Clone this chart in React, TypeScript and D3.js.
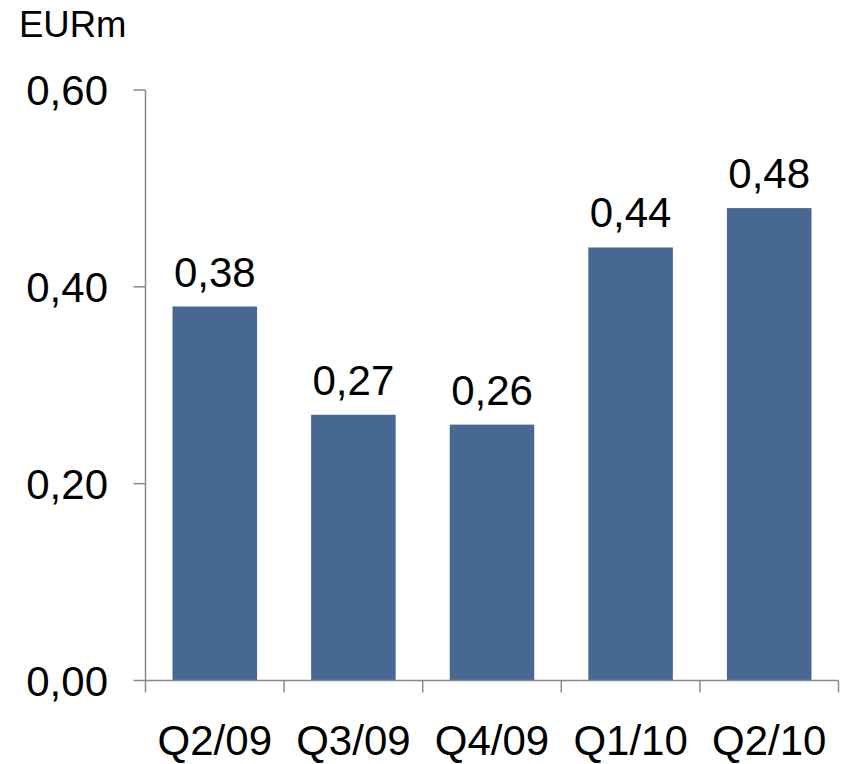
import React from "react";
import * as d3 from "d3";

const categories = ["Q2/09", "Q3/09", "Q4/09", "Q1/10", "Q2/10"];
const values = [0.38, 0.27, 0.26, 0.44, 0.48];
const yTicks = [0, 0.2, 0.4, 0.6];
const unitLabel = "EURm";

const W = 848;
const H = 764;
const left = 145.5;
const right = 838.5;
const top = 90;
const bottom = 680.5;
const font = "'Liberation Sans', Arial, sans-serif";
const fmt = (v: number) => v.toFixed(2).replace(".", ",");

export default function App() {
  const x = d3.scaleBand<string>().domain(categories).range([left, right]).paddingInner(0.39).paddingOuter(0.195);
  const y = d3.scaleLinear().domain([0, 0.6]).range([bottom, top]);
  const step = (right - left) / categories.length;
  const axisColor = "#898989";

  return (
    <svg width={W} height={H} style={{ position: "absolute", left: 0, top: 0 }}>
      <rect width={W} height={H} fill="#fff" />
      <text x={19} y={37} fontFamily={font} fontSize={36.5} fill="#000">{unitLabel}</text>
      {categories.map((c, i) => (
        <g key={c}>
          <rect x={x(c)} y={y(values[i])} width={x.bandwidth()} height={y(0) - y(values[i])} fill="#476893" />
          <text x={x(c)! + x.bandwidth() / 2} y={y(values[i]) - 20} textAnchor="middle" fontFamily={font} fontSize={42} fill="#000">{fmt(values[i])}</text>
          <text x={left + step * (i + 0.5)} y={755} textAnchor="middle" fontFamily={font} fontSize={42} fill="#000">{c}</text>
        </g>
      ))}
      <line x1={left} x2={left} y1={top} y2={bottom} stroke={axisColor} strokeWidth={1.5} />
      <line x1={left} x2={right} y1={bottom} y2={bottom} stroke={axisColor} strokeWidth={1.5} />
      {yTicks.map((t) => (
        <g key={t}>
          <line x1={left - 12} x2={left} y1={y(t)} y2={y(t)} stroke={axisColor} strokeWidth={1.5} />
          <text x={108} y={y(t) + 15} textAnchor="end" fontFamily={font} fontSize={42} fill="#000">{fmt(t)}</text>
        </g>
      ))}
      {d3.range(categories.length + 1).map((i) => (
        <line key={i} x1={left + step * i} x2={left + step * i} y1={bottom} y2={bottom + 12} stroke={axisColor} strokeWidth={1.5} />
      ))}
    </svg>
  );
}
